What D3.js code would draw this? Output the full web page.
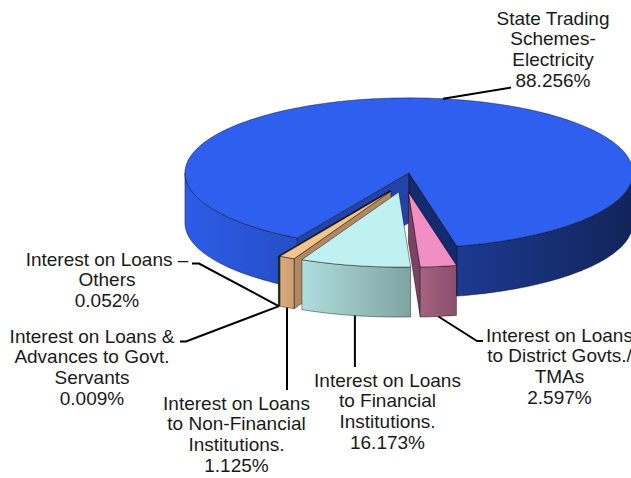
<!DOCTYPE html>
<html>
<head>
<meta charset="utf-8">
<script src="https://cdn.jsdelivr.net/npm/d3@7"></script>
<style>
  html, body { margin: 0; padding: 0; background: #fff; }
  svg { display: block; }
</style>
</head>
<body>
<div id="chart"></div>
<script>
// Slice names, split the way the labels wrap
const categories = [
  "State Trading\nSchemes-\nElectricity",
  "Interest on Loans\nto District Govts./\nTMAs",
  "Interest on Loans\nto Financial\nInstitutions.",
  "Interest on Loans\nto Non-Financial\nInstitutions.",
  "Interest on Loans &\nAdvances to Govt.\nServants",
  "Interest on Loans –\nOthers"
];
// Slice shares as drawn in the pie (percent)
const shares = [88.256, 2.597, 7.961, 1.125, 0.009, 0.052];
// Percent text printed in each label
const percentLabels = ["88.256%", "2.597%", "16.173%", "1.125%", "0.009%", "0.052%"];

// Colours per slice: top, outer wall gradient, cut faces
const palette = [
  { top: "#2E5FEF", wallA: "#2C5CE8", wallB: "#122459", faceStart: "#2244A8", faceEnd: "#142A6E" },
  { top: "#F18EC4", wallA: "#A4637F", wallB: "#8A4E6D", faceStart: "#7B4262", faceEnd: "#7B4262" },
  { top: "#BEF1F0", wallA: "#AFDEDD", wallB: "#80A3A3", faceStart: "#8FB5B5", faceEnd: "#8FB5B5" },
  { top: "#F4C38E", wallA: "#D8AA7E", wallB: "#CC9F73", faceStart: "#B08862", faceEnd: "#B08862" },
  { top: "#7E6AA8", wallA: "#5C4C80", wallB: "#4A3D68", faceStart: "#3F3358", faceEnd: "#3F3358" },
  { top: "#6E9A3E", wallA: "#54772E", wallB: "#445F25", faceStart: "#3A5220", faceEnd: "#3A5220" }
];

// Painting order (back to front) of the slices
const drawOrder = [0, 4, 5, 3, 1, 2];

// Where each label sits (centre x, first baseline) and the leader's bend points
const labelLayout = [
  { x: 553, y: 24.5, leader: [[511, 87.5]] },
  { x: 559.5, y: 341.5, leader: [[477, 341], [483, 341]] },
  { x: 387.5, y: 386.5, leader: [[null, 367]] },
  { x: 236.5, y: 409.5, leader: [[null, 390]] },
  { x: 92, y: 342.5, leader: [[186, 341.5], [180, 341.5]] },
  { x: 107, y: 265.5, leader: [[199, 263.5], [192, 263.5]] }
];

const width = 631, height = 478;
const rad = Math.PI / 180;

class ExplodedPie3D {
  constructor(selector) {
    this.cx = 404.5;
    this.cy = 182.5;
    this.rx = 224;
    this.ry = 75;
    this.depth = 50;
    this.explode = 0.13;
    this.lineHeight = 20.8;

    this.svg = d3.select(selector)
      .append("svg")
      .attr("width", width)
      .attr("height", height)
      .attr("viewBox", [0, 0, width, height]);

    this.defs = this.svg.append("defs");
    this.line = d3.line();

    // Compute the slice angles (clockwise from 12 o'clock)
    this.arcs = d3.pie()
      .sort(null)
      .value(d => d)
      .startAngle(-150.1 * rad)
      .endAngle(209.9 * rad)(shares);

    this.arcs.forEach((d, i) => {
      const mid = (d.startAngle + d.endAngle) / 2;
      d.index = i;
      d.mid = mid;
      d.center = {
        x: this.cx + this.explode * this.rx * Math.sin(mid),
        y: this.cy - this.explode * this.ry * Math.cos(mid)
      };
    });

    this.drawSlices();
    this.drawLabels();
  }

  rim(c, a, dy = 0) {
    return [c.x + this.rx * Math.sin(a), c.y - this.ry * Math.cos(a) + dy];
  }

  rimPoints(c, a0, a1, dy) {
    const n = Math.max(2, Math.ceil(Math.abs(a1 - a0) / rad));
    return d3.range(n + 1).map(i => this.rim(c, a0 + (a1 - a0) * i / n, dy));
  }

  // Parts of [a0, a1] that lie on the front half (90..270 deg)
  frontRanges(a0, a1) {
    const out = [];
    for (const k of [-1, 0, 1]) {
      const lo = Math.max(a0, Math.PI / 2 + 2 * Math.PI * k);
      const hi = Math.min(a1, 3 * Math.PI / 2 + 2 * Math.PI * k);
      if (hi > lo) out.push([lo, hi]);
    }
    return out;
  }

  poly(points) {
    return this.line(points) + "Z";
  }

  drawSlices() {
    const g = this.svg.append("g")
      .attr("stroke", "#000")
      .attr("stroke-opacity", 0.55)
      .attr("stroke-width", 0.75)
      .attr("stroke-linejoin", "round");

    drawOrder.map(i => this.arcs[i]).forEach(d => {
      const c = d.center;
      const col = palette[d.index];
      const apex = [c.x, c.y];
      const apexLow = [c.x, c.y + this.depth];
      const slice = g.append("g").attr("class", "slice");

      // Outer wall gradient, light on the left, dark on the right
      const grad = this.defs.append("linearGradient")
        .attr("id", `wall-${d.index}`)
        .attr("x1", 0).attr("y1", 0).attr("x2", 1).attr("y2", 0);
      grad.append("stop").attr("offset", 0).attr("stop-color", col.wallA);
      grad.append("stop").attr("offset", 1).attr("stop-color", col.wallB);

      // Cut faces that turn towards the viewer
      if (Math.sin(d.startAngle) < 0) {
        slice.append("path")
          .attr("fill", col.faceStart)
          .attr("d", this.poly([apex, this.rim(c, d.startAngle), this.rim(c, d.startAngle, this.depth), apexLow]));
      }
      if (Math.sin(d.endAngle) > 0) {
        slice.append("path")
          .attr("fill", col.faceEnd)
          .attr("d", this.poly([apex, this.rim(c, d.endAngle), this.rim(c, d.endAngle, this.depth), apexLow]));
      }

      // Outer wall
      const walls = this.frontRanges(d.startAngle, d.endAngle)
        .map(([lo, hi]) => this.poly(this.rimPoints(c, lo, hi, 0).concat(this.rimPoints(c, hi, lo, this.depth))));
      if (walls.length) {
        slice.append("path")
          .attr("fill", `url(#wall-${d.index})`)
          .attr("d", walls.join(""));
      }

      // Top
      slice.append("path")
        .attr("fill", col.top)
        .attr("d", this.poly([apex].concat(this.rimPoints(c, d.startAngle, d.endAngle, 0))));
    });
  }

  drawLabels() {
    const leaders = this.svg.append("g")
      .attr("fill", "none")
      .attr("stroke", "#000")
      .attr("stroke-width", 2);

    const labels = this.svg.append("g")
      .attr("font-family", "'Liberation Sans', Arial, sans-serif")
      .attr("font-size", 19)
      .attr("fill", "#1a1a1a")
      .attr("text-anchor", "middle");

    this.arcs.forEach(d => {
      const lay = labelLayout[d.index];
      // Leaders start on the top rim for the back slice, bottom rim for the rest
      const anchor = d.index === 0
        ? this.rim(d.center, d.mid)
        : this.rim(d.center, d.mid, this.depth);
      const pts = [anchor].concat(lay.leader.map(([x, y]) => [x === null ? anchor[0] : x, y]));
      leaders.append("path").attr("d", this.line(pts));

      const lines = categories[d.index].split("\n").concat(percentLabels[d.index]);
      labels.append("text")
        .attr("x", lay.x)
        .attr("y", lay.y)
        .selectAll("tspan")
        .data(lines)
        .join("tspan")
        .attr("x", lay.x)
        .attr("dy", (t, j) => j === 0 ? 0 : this.lineHeight)
        .text(t => t);
    });
  }
}

new ExplodedPie3D("#chart");
</script>
</body>
</html>
